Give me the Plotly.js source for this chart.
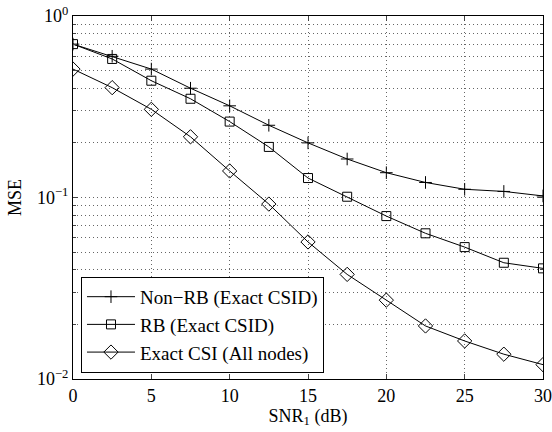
<!DOCTYPE html>
<html><head><meta charset="utf-8">
<script src="https://cdn.plot.ly/plotly-3.0.1.min.js"></script>
<style>html,body{margin:0;padding:0;background:#fff}</style>
</head><body>
<div id="chart" style="width:552px;height:432px"></div>
<script>
var snr = [0, 2.5, 5, 7.5, 10, 12.5, 15, 17.5, 20, 22.5, 25, 27.5, 30];
var nonRB = [0.70, 0.60, 0.51, 0.40, 0.32, 0.25, 0.20, 0.163, 0.137, 0.121, 0.111, 0.108, 0.102];
var rb = [0.70, 0.58, 0.44, 0.35, 0.262, 0.19, 0.128, 0.101, 0.079, 0.0635, 0.0533, 0.0437, 0.0407];
var exactCSI = [0.51, 0.403, 0.306, 0.216, 0.140, 0.092, 0.0569, 0.0377, 0.0272, 0.0196, 0.0162, 0.0137, 0.0120];
var names = ['Non\u2212RB (Exact CSID)', 'RB (Exact CSID)', 'Exact CSI (All nodes)'];
var xTicks = [0, 5, 10, 15, 20, 25, 30];
var yTicks = [0.01, 0.1, 1];
var yTickText = ['10<sup>\u22122</sup>', '10<sup>\u22121</sup>', '10<sup>0</sup>'];
var yMinor = [0.02,0.03,0.04,0.05,0.06,0.07,0.08,0.09,0.2,0.3,0.4,0.5,0.6,0.7,0.8,0.9];

var fam = 'Liberation Serif';
var font = {family: fam, size: 18, color: '#000'};
function tr(y, name, sym, size) {
  return {x: snr, y: y, name: name, type: 'scatter', mode: 'lines+markers',
    line: {color: '#000', width: 1},
    marker: {symbol: sym, size: size, color: '#000', line: {color: '#000', width: 1}}};
}
var data = [
  tr(nonRB, names[0], 'cross-thin-open', 9),
  tr(rb, names[1], 'square-open', 9),
  tr(exactCSI, names[2], 'diamond-open', 11)
];
var gridStyle = {showgrid: true, gridcolor: '#666', griddash: '1px,3px', gridwidth: 1};
var layout = {
  width: 552, height: 432,
  margin: {l: 73, r: 9, t: 16, b: 53},
  paper_bgcolor: '#fff', plot_bgcolor: '#fff',
  font: font,
  showlegend: true,
  legend: {x: 0.017, y: 0.017, xanchor: 'left', yanchor: 'bottom',
    bgcolor: '#fff', bordercolor: '#000', borderwidth: 1, itemwidth: 48,
    font: {family: fam, size: 19, color: '#000'}, tracegroupgap: 0},
  xaxis: Object.assign({range: [0, 30], tickvals: xTicks, ticks: 'inside', ticklen: 5,
    showline: true, linecolor: '#000', linewidth: 1, mirror: 'ticks',
    zeroline: false, tickfont: font,
    title: {text: 'SNR<sub>1</sub> (dB)', font: font, standoff: 2}}, gridStyle),
  yaxis: Object.assign({type: 'log', range: [-2, 0], tickvals: yTicks, ticktext: yTickText,
    ticks: 'inside', ticklen: 5,
    showline: true, linecolor: '#000', linewidth: 1, mirror: 'ticks',
    zeroline: false, tickfont: font,
    minor: Object.assign({tickvals: yMinor, ticks: 'inside', ticklen: 3}, gridStyle),
    title: {text: 'MSE', font: font, standoff: 10}}, gridStyle)
};
Plotly.newPlot('chart', data, layout, {displayModeBar: false, staticPlot: true});
</script>
</body></html>
